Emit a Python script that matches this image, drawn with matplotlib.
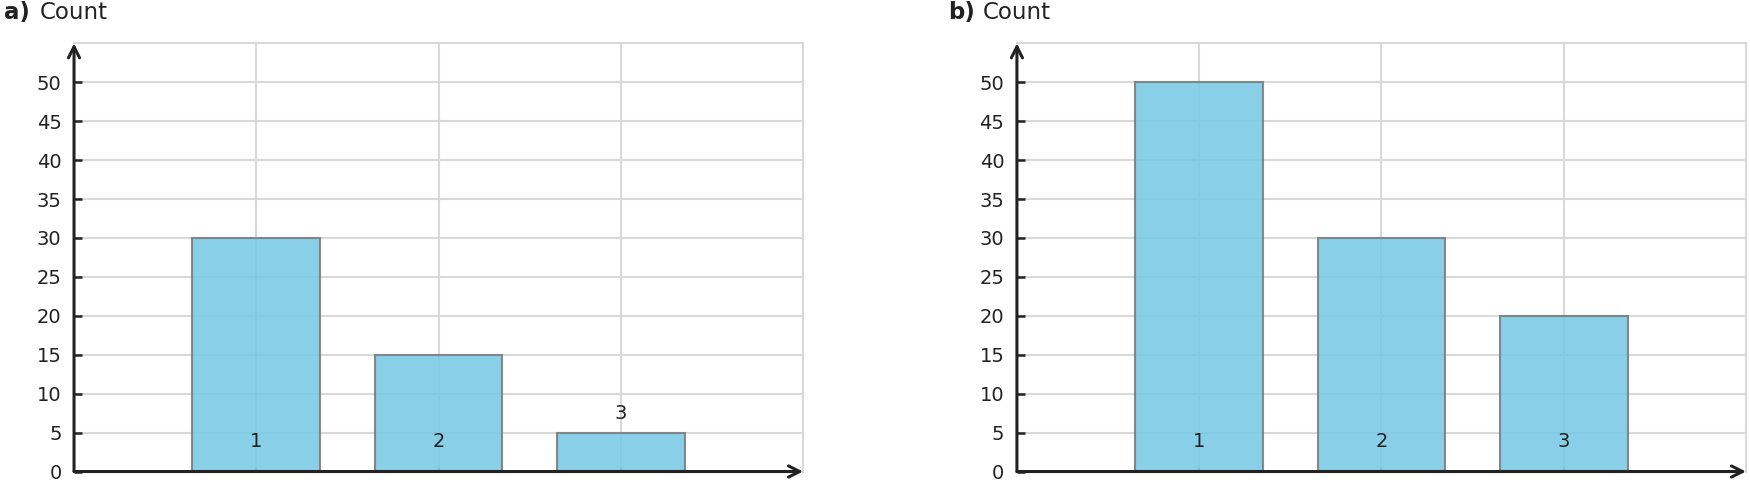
import numpy as np
import matplotlib.pyplot as plt

# data
categories = [1, 2, 3]
counts_a = [30, 15, 5]
counts_b = [50, 30, 20]
panel_tags = ['a)', 'b)']
yticks = np.arange(0, 55, 5)

plt.rcParams['font.family'] = 'DejaVu Sans'
plt.rcParams['font.size'] = 14
DARK = '#222222'
GRID = '#d9d9d9'

fig = plt.figure(figsize=(17.5, 4.86), dpi=100)
ax_a = fig.add_axes([0.0423, 0.0298, 0.4166, 0.8811])
ax_b = fig.add_axes([0.5811, 0.0298, 0.4166, 0.8811])


def draw_panel(ax, counts):
    ax.set_xlim(0, 4)
    ax.set_ylim(0, 55)
    ax.set_axisbelow(True)
    ax.grid(True, color=GRID, lw=1.5)
    ax.bar(categories, counts, width=0.7, color='#77c8e5', alpha=0.87,
           edgecolor='#7a7a7a', lw=1.5, zorder=2)
    for c, h in zip(categories, counts):
        ty = 3.8 if h > 7.5 else h + 2.5
        ax.text(c, ty, str(c), ha='center', va='center', color=DARK,
                fontsize=14, zorder=3)
    ax.set_xticks(categories)
    ax.set_xticklabels([])
    ax.set_yticks(yticks)
    ax.tick_params(axis='y', direction='in', length=6, width=1.8,
                   color=DARK, labelcolor=DARK, pad=9)
    ax.tick_params(axis='x', direction='in', length=3, width=1.5, color='#4a8fa8')
    for s in ['top', 'right']:
        ax.spines[s].set_color(GRID)
        ax.spines[s].set_linewidth(1.5)
    for s in ['left', 'bottom']:
        ax.spines[s].set_visible(False)
    # axis arrows
    ax.annotate('', xy=(0, 1.0), xytext=(0, 0), xycoords='axes fraction',
                arrowprops=dict(arrowstyle='->', color=DARK, lw=2.2,
                                shrinkA=0, shrinkB=0, mutation_scale=20),
                annotation_clip=False, zorder=5)
    ax.annotate('', xy=(1.0, 0), xytext=(0, 0), xycoords='axes fraction',
                arrowprops=dict(arrowstyle='->', color=DARK, lw=2.2,
                                shrinkA=0, shrinkB=0, mutation_scale=20),
                annotation_clip=False, zorder=5)


draw_panel(ax_a, counts_a)
draw_panel(ax_b, counts_b)

ty = 1 - 19 / 486
fig.text(4 / 1750, ty, panel_tags[0], fontweight='bold', color=DARK, va='baseline', fontsize=16.5)
fig.text(40 / 1750, ty, 'Count', color=DARK, va='baseline', fontsize=16.5)
fig.text(948 / 1750, ty, panel_tags[1], fontweight='bold', color=DARK, va='baseline', fontsize=16.5)
fig.text(983 / 1750, ty, 'Count', color=DARK, va='baseline', fontsize=16.5)

fig.savefig('out.png', dpi=100)
